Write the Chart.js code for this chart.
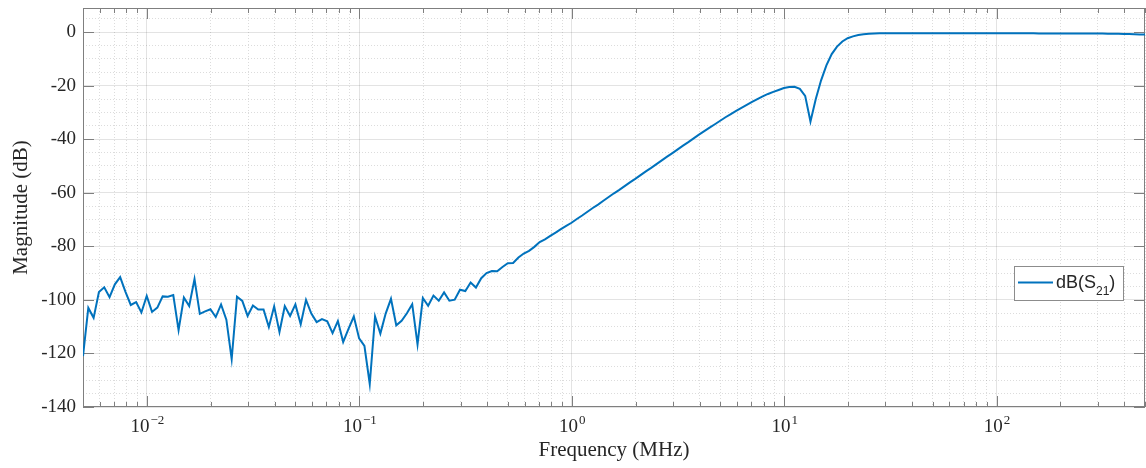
<!DOCTYPE html>
<html>
<head>
<meta charset="utf-8">
<script src="https://cdn.jsdelivr.net/npm/chart.js@4.4.1/dist/chart.umd.min.js"></script>
<style>
  html, body { margin: 0; padding: 0; background: #fff; }
  #wrap { position: relative; width: 1146px; height: 468px; }
</style>
</head>
<body>
<div id="wrap"><canvas id="s21Chart"></canvas></div>
<script>
// sweep: 0.005 MHz .. 500 MHz, 40 points per decade (201 points)
const fStartMHz = 0.005;
const pointsPerDecade = 40;

// |S21| in dB
const magDb = [
  -121, -103, -106.7, -97.1, -95.3, -99, -94.2, -91.5, -97, -101.9,
  -100.8, -104.7, -98.5, -104.5, -102.9, -98.7, -98.8, -98.2, -111.3, -99.1,
  -102.3, -92.2, -105.2, -104.3, -103.5, -106.4, -101.7, -107.4, -122.1, -98.8,
  -100.4, -106, -102.1, -103.6, -103.6, -110.1, -102.4, -112, -102.3, -106,
  -101.7, -109.1, -100, -105.1, -108.3, -107.2, -108, -112.4, -107.9, -115.7,
  -110.8, -106.2, -114.4, -117.2, -131.4, -106.2, -112.6, -105.1, -99.6, -109.5,
  -107.8, -105, -101.6, -116.6, -99.3, -102.2, -98.4, -100.3, -97.2, -100.3,
  -99.9, -96.2, -96.7, -93.5, -95.4, -91.9, -90, -89.2, -89.3, -87.7,
  -86.3, -86.2, -84.2, -82.7, -81.7, -80.2, -78.4, -77.4, -76.1, -74.9,
  -73.6, -72.4, -71.2, -69.8, -68.5, -67.1, -65.7, -64.4, -63.0, -61.6,
  -60.2, -58.9, -57.5, -56.1, -54.8, -53.4, -52.0, -50.7, -49.3, -47.9,
  -46.5, -45.2, -43.8, -42.4, -41.1, -39.7, -38.3, -37.0, -35.7, -34.4,
  -33.1, -31.8, -30.6, -29.4, -28.3, -27.2, -26.1, -25.0, -24.0, -23.1,
  -22.3, -21.6, -20.9, -20.5, -20.4, -21.2, -23.8, -33.4, -25.0, -18.0,
  -12.4, -8.2, -5.4, -3.5, -2.3, -1.6, -1.1, -0.8, -0.6, -0.5,
  -0.4, -0.4, -0.4, -0.4, -0.4, -0.4, -0.4, -0.4, -0.4, -0.4,
  -0.4, -0.4, -0.4, -0.4, -0.4, -0.4, -0.4, -0.4, -0.4, -0.4,
  -0.4, -0.4, -0.4, -0.4, -0.4, -0.4, -0.4, -0.4, -0.4, -0.4,
  -0.5, -0.5, -0.5, -0.5, -0.5, -0.5, -0.5, -0.5, -0.5, -0.5,
  -0.5, -0.5, -0.55, -0.6, -0.6, -0.65, -0.7, -0.75, -0.8, -0.85,
  -0.9
];

const yTickLabels = [-140, -120, -100, -80, -60, -40, -20, 0];
const xDecades = [0.01, 0.1, 1, 10, 100];

const lineColor = '#0072BD';
const axisColor = '#7f7f7f';
const textColor = '#262626';
const majorGrid = 'rgba(38,38,38,0.13)';
const minorGrid = 'rgba(38,38,38,0.16)';
const serif = "'Liberation Serif', 'Times New Roman', serif";
const sans = "'Liberation Sans', Arial, sans-serif";

const freqMHz = magDb.map((_, i) => fStartMHz * Math.pow(10, i / pointsPerDecade));
const points = freqMHz.map((f, i) => ({ x: f, y: magDb[i] }));

const isDecade = v => Math.abs(Math.log10(v) - Math.round(Math.log10(v))) < 1e-6;

// grid positions: 1..9 x 10^n on x, every 5 dB on y
const xGridValues = [];
for (let e = -3; e <= 2; e++) {
  for (let k = 1; k <= 9; k++) {
    const v = parseFloat((k * Math.pow(10, e)).toPrecision(6));
    if (v >= 0.005 - 1e-12 && v <= 500 + 1e-9) xGridValues.push(v);
  }
}
const yGridValues = [];
for (let v = -140; v <= 5; v += 5) yGridValues.push(v);

// MATLAB-like box, inward ticks, 10^n labels and legend
const matlabAxes = {
  id: 'matlabAxes',
  beforeDatasetsDraw(chart) {
    const { ctx, chartArea: a, scales: { x, y } } = chart;
    ctx.save();
    ctx.strokeStyle = axisColor;
    ctx.lineWidth = 1;
    ctx.beginPath();
    xGridValues.forEach(v => {
      const px = Math.round(x.getPixelForValue(v)) + 0.5;
      const len = isDecade(v) ? 11 : 5;
      ctx.moveTo(px, a.bottom); ctx.lineTo(px, a.bottom - len);
      ctx.moveTo(px, a.top); ctx.lineTo(px, a.top + len);
    });
    yTickLabels.forEach(v => {
      const py = Math.round(y.getPixelForValue(v)) + 0.5;
      ctx.moveTo(a.left, py); ctx.lineTo(a.left + 11, py);
      ctx.moveTo(a.right, py); ctx.lineTo(a.right - 11, py);
    });
    ctx.stroke();
    ctx.strokeRect(a.left + 0.5, a.top + 0.5, a.right - a.left - 1, a.bottom - a.top - 1);
    ctx.restore();
  },
  afterDraw(chart) {
    const { ctx, scales: { x } } = chart;
    ctx.save();
    ctx.fillStyle = textColor;
    ctx.textBaseline = 'alphabetic';
    ctx.textAlign = 'left';
    xDecades.forEach(v => {
      const e = Math.round(Math.log10(v));
      const base = '10';
      const exp = e < 0 ? '\u2212' + Math.abs(e) : String(e);
      ctx.font = '19px ' + serif;
      const wb = ctx.measureText(base).width;
      ctx.font = '13px ' + serif;
      const we = ctx.measureText(exp).width;
      const px = x.getPixelForValue(v);
      const left = px - (wb + we) / 2;
      ctx.font = '19px ' + serif;
      ctx.fillText(base, left, 431.5);
      ctx.font = '13px ' + serif;
      ctx.fillText(exp, left + wb + 1, 424);
    });

    // legend
    const bx = 1014, by = 266, bw = 109, bh = 34;
    ctx.fillStyle = '#ffffff';
    ctx.fillRect(bx, by, bw, bh);
    ctx.strokeStyle = '#8c8c8c';
    ctx.lineWidth = 1;
    ctx.strokeRect(bx + 0.5, by + 0.5, bw, bh);
    ctx.strokeStyle = lineColor;
    ctx.lineWidth = 2;
    ctx.beginPath();
    ctx.moveTo(bx + 4, by + 16.5);
    ctx.lineTo(bx + 39, by + 16.5);
    ctx.stroke();
    ctx.fillStyle = textColor;
    ctx.font = '18px ' + sans;
    let tx = bx + 42;
    ctx.fillText('dB(S', tx, by + 21.5);
    tx += ctx.measureText('dB(S').width;
    ctx.font = '12px ' + sans;
    ctx.fillText('21', tx, by + 29);
    tx += ctx.measureText('21').width;
    ctx.font = '18px ' + sans;
    ctx.fillText(')', tx, by + 21.5);
    ctx.restore();
  }
};

new Chart(document.getElementById('s21Chart'), {
  type: 'line',
  data: {
    datasets: [{
      label: 'dB(S21)',
      data: points,
      borderColor: lineColor,
      backgroundColor: lineColor,
      borderWidth: 2,
      pointRadius: 0,
      tension: 0,
      fill: false
    }]
  },
  options: {
    responsive: true,
    maintainAspectRatio: false,
    animation: false,
    layout: { padding: { top: 8, right: 1, left: 0, bottom: 0 } },
    plugins: {
      legend: { display: false },
      tooltip: { enabled: false }
    },
    scales: {
      x: {
        type: 'logarithmic',
        min: 0.005,
        max: 500,
        afterBuildTicks: s => { s.ticks = xGridValues.map(v => ({ value: v })); },
        afterFit: s => { s.height = 61; s.paddingLeft = 0; s.paddingRight = 0; },
        ticks: { display: false, autoSkip: false },
        grid: {
          drawTicks: false,
          lineWidth: 1,
          color: c => (c.tick && isDecade(c.tick.value)) ? majorGrid : minorGrid
        },
        border: {
          display: false,
          dash: c => (c.tick && !isDecade(c.tick.value)) ? [1, 2] : []
        },
        title: {
          display: true,
          text: 'Frequency (MHz)',
          color: textColor,
          font: { family: serif, size: 21 },
          padding: { top: 0, bottom: 5 }
        }
      },
      y: {
        min: -140,
        max: 9,
        afterBuildTicks: s => { s.ticks = yGridValues.map(v => ({ value: v })); },
        afterFit: s => { s.width = 83; s.paddingTop = 0; s.paddingBottom = 0; },
        ticks: {
          autoSkip: false,
          padding: 7,
          color: textColor,
          font: { family: serif, size: 19 },
          callback: v => yTickLabels.includes(v) ? String(v) : ''
        },
        grid: {
          drawTicks: false,
          lineWidth: 1,
          color: c => (c.tick && c.tick.value % 20 === 0) ? majorGrid : minorGrid
        },
        border: {
          display: false,
          dash: c => (c.tick && c.tick.value % 20 !== 0) ? [1, 2] : []
        },
        title: {
          display: true,
          text: 'Magnitude (dB)',
          color: textColor,
          font: { family: serif, size: 21 },
          padding: { top: 9, bottom: 0 }
        }
      }
    }
  },
  plugins: [matlabAxes]
});
</script>
</body>
</html>
